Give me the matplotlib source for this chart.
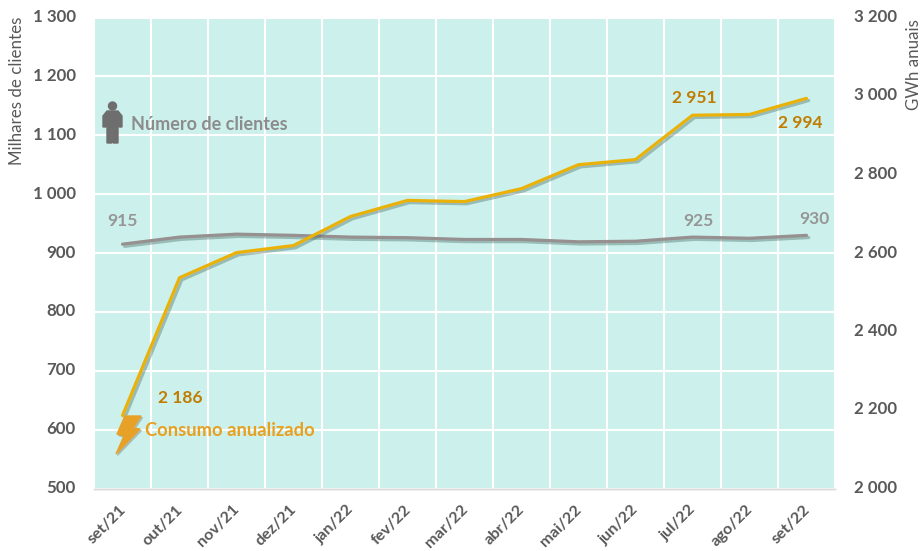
import matplotlib
matplotlib.use("Agg")
import matplotlib.pyplot as plt
import matplotlib.patheffects as pe
from matplotlib.patches import Polygon, Circle
from matplotlib.transforms import Affine2D, ScaledTranslation

plt.rcParams['font.family'] = ['Lato', 'DejaVu Sans']

months = ['set/21', 'out/21', 'nov/21', 'dez/21', 'jan/22', 'fev/22', 'mar/22',
          'abr/22', 'mai/22', 'jun/22', 'jul/22', 'ago/22', 'set/22']
clientes = [915, 927, 932, 930, 927, 926, 923, 923, 919, 920, 927, 925, 930]
consumo = [2186, 2537, 2601, 2619, 2693, 2734, 2731, 2764, 2825, 2838, 2951, 2953, 2994]
left_ticks = [500, 600, 700, 800, 900, 1000, 1100, 1200, 1300]
right_ticks = [2000, 2200, 2400, 2600, 2800, 3000, 3200]

W, H = 922, 551
fig = plt.figure(figsize=(W / 100, H / 100), dpi=100, facecolor='white')
L, R, T, B = 94, 835, 17.5, 488.5
ax = fig.add_axes([L / W, 1 - B / H, (R - L) / W, (B - T) / H])
ax.set_facecolor('#CCF1EC')
ax2 = ax.twinx()
ax.set_zorder(1)
ax2.set_zorder(2)
ax2.patch.set_visible(False)

x = list(range(len(months)))
fmt = lambda v: f'{v:,}'.replace(',', ' ')
shadow = [pe.SimpleLineShadow(offset=(1.6, -1.6), shadow_color='#4A6A66', alpha=0.4), pe.Normal()]

ax.plot(x, clientes, color='#969090', lw=2.3, solid_capstyle='round', path_effects=shadow)
ax2.plot(x, consumo, color='#EAB208', lw=2.3, solid_capstyle='round', path_effects=shadow)

ax.set_xlim(-0.5, 12.5)
ax.set_ylim(500, 1300)
ax2.set_ylim(2000, 3200)
ax.set_yticks(left_ticks, [fmt(v) for v in left_ticks])
ax2.set_yticks(right_ticks, [fmt(v) for v in right_ticks])
ax.set_xticks(x, months, rotation=45, ha='right', rotation_mode='anchor')
ax.set_xticks([i - 0.5 for i in range(14)], minor=True)
ax.grid(True, axis='y', color='white', lw=1.5)
ax.grid(True, axis='x', which='minor', color='white', lw=1.5)
ax.grid(False, axis='x', which='major')
ax.set_axisbelow(True)
ax.tick_params(axis='both', which='both', length=0)
ax2.tick_params(axis='both', length=0)
ax.tick_params(axis='y', labelsize=12.2, labelcolor='#595959', pad=13)
ax2.tick_params(axis='y', labelsize=12.2, labelcolor='#595959', pad=14)
ax.tick_params(axis='x', labelsize=11.6, labelcolor='#595959', pad=10)
up = ScaledTranslation(0, 2 / 100, fig.dpi_scale_trans)
left = ScaledTranslation(-4 / 100, 0, fig.dpi_scale_trans)
for lab in ax.get_yticklabels() + ax2.get_yticklabels():
    lab.set_fontweight('bold')
    lab.set_transform(lab.get_transform() + up)
for lab in ax.get_xticklabels():
    lab.set_fontweight('bold')
    lab.set_transform(lab.get_transform() + left)
for a in (ax, ax2):
    for s in ('top', 'left', 'right'):
        a.spines[s].set_visible(False)
    a.spines['bottom'].set_color('#D9D9D9')
    a.spines['bottom'].set_linewidth(1)

def ptext(px, py, s, **kw):
    fig.text(px / W, 1 - py / H, s, va='center', zorder=6, **kw)

ptext(17, 91, 'Milhares de clientes', rotation=90, ha='center', fontsize=12.2, color='#595959')
ptext(914, 65, 'GWh anuais', rotation=90, ha='center', fontsize=12.2, color='#595959')

ptext(122, 221, fmt(clientes[0]), ha='center', fontsize=12.5, fontweight='bold', color='#969696')
ptext(698, 221, fmt(925), ha='center', fontsize=12.5, fontweight='bold', color='#969696')
ptext(814, 219, fmt(clientes[12]), ha='center', fontsize=12.5, fontweight='bold', color='#969696')
ptext(180, 398, fmt(consumo[0]), ha='center', fontsize=12.5, fontweight='bold', color='#C07C00')
ptext(694, 98, fmt(consumo[10]), ha='center', fontsize=12.5, fontweight='bold', color='#C07C00')
ptext(800, 123, fmt(consumo[12]), ha='center', fontsize=12.5, fontweight='bold', color='#C07C00')
ptext(131, 125, 'Número de clientes', ha='left', fontsize=13, fontweight='bold', color='#8C8C8C')
ptext(145, 431, 'Consumo anualizado', ha='left', fontsize=13.2, fontweight='bold', color='#E8A020')

# pictograms, in pixel space
px = Affine2D().scale(1, -1).translate(0, H)
person = '#6E6E6E'
fig.add_artist(Circle((112.5, 106), 4, color=person, transform=px, zorder=6))
fig.add_artist(Polygon([(107, 111), (118, 111), (122, 116), (122, 127), (119.5, 127), (118, 120),
                        (118, 143), (113.2, 143), (113.2, 128), (111.8, 128), (111.8, 143),
                        (107, 143), (107, 120), (105.5, 127), (103, 127), (103, 116)],
                       closed=True, color=person, transform=px, zorder=6))
bolt = [(125, 416), (141, 416), (133, 428), (140, 429), (116, 454), (124, 436), (117, 434)]
fig.add_artist(Polygon([(a + 1.5, b + 1.5) for a, b in bolt], closed=True, color='#9DB0AD',
                       transform=px, alpha=0.7, zorder=6))
fig.add_artist(Polygon(bolt, closed=True, color='#E8A127', transform=px, zorder=7))

fig.savefig('out.png', dpi=100, facecolor='white')
